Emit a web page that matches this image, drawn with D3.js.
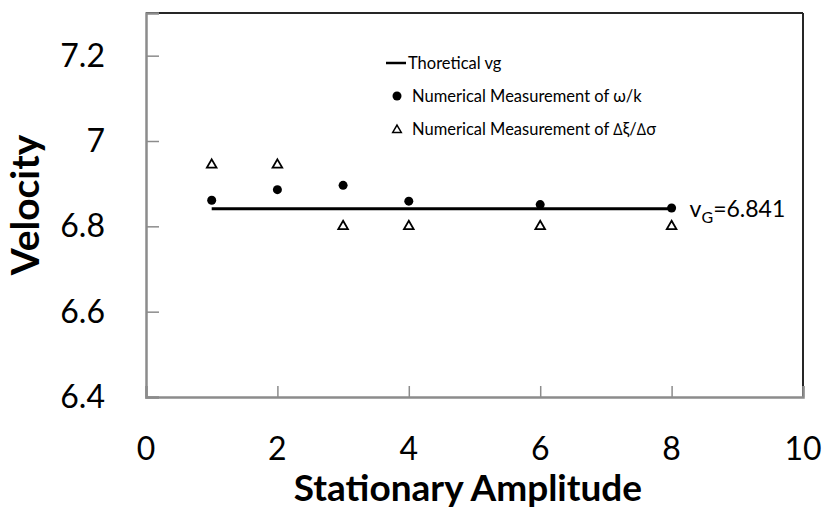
<!DOCTYPE html>
<html>
<head>
<meta charset="utf-8">
<script src="https://cdn.jsdelivr.net/npm/d3@7"></script>
<style>
  body { margin: 0; background: #fff; }
  text { font-family: Lato, "Open Sans", sans-serif; fill: #000; }
</style>
</head>
<body>
<div id="chart"></div>
<script>
// data
const amplitudes = [1, 2, 3, 4, 6, 8];
const phaseVelocity = [6.861, 6.886, 6.896, 6.859, 6.851, 6.843];   // omega/k
const groupVelocity = [6.944, 6.944, 6.8, 6.8, 6.8, 6.8];           // dxi/dsigma
const theoryX = [1, 8];
const theoryVg = 6.841;
const xTicks = [0, 2, 4, 6, 8, 10];
const yTicks = [6.4, 6.6, 6.8, 7, 7.2];

const width = 824, height = 512;
const margin = { top: 13, right: 21, bottom: 115, left: 146 };

const svg = d3.select("#chart").append("svg")
    .attr("width", width)
    .attr("height", height);

const x = d3.scaleLinear().domain([0, 10]).range([margin.left, width - margin.right]);
const y = d3.scaleLinear().domain([6.4, 7.3]).range([height - margin.bottom, margin.top]);

// frame: top/right dark, left/bottom gray
const grey = "#8c8c8c";
svg.append("line")
    .attr("x1", x(0)).attr("x2", x(10)).attr("y1", y(7.3)).attr("y2", y(7.3))
    .attr("stroke", "#262626").attr("stroke-width", 2);
svg.append("line")
    .attr("x1", x(10)).attr("x2", x(10)).attr("y1", y(7.3)).attr("y2", y(6.4))
    .attr("stroke", "#262626").attr("stroke-width", 2);

// axes with inward ticks
const yAxis = svg.append("g")
    .attr("transform", `translate(${x(0)},0)`)
    .call(d3.axisRight(y).tickValues(yTicks).tickSize(13).tickFormat(""));
const xAxis = svg.append("g")
    .attr("transform", `translate(0,${y(6.4)})`)
    .call(d3.axisTop(x).tickValues(xTicks).tickSize(11).tickFormat(""));
[yAxis, xAxis].forEach(g => {
    g.select(".domain").attr("stroke", grey).attr("stroke-width", 2.5);
    g.selectAll(".tick line").attr("stroke", grey).attr("stroke-width", 1.5);
});

// tick labels
svg.selectAll(".ylab").data(yTicks).enter().append("text")
    .attr("class", "ylab")
    .attr("x", x(0) - 41)
    .attr("y", d => y(d) + 11)
    .attr("text-anchor", "end")
    .style("font-size", "32px")
    .text(d => d3.format("")(d));
svg.selectAll(".xlab").data(xTicks).enter().append("text")
    .attr("class", "xlab")
    .attr("x", d => x(d))
    .attr("y", 460)
    .attr("text-anchor", "middle")
    .style("font-size", "32px")
    .text(d => d);

// axis titles
svg.append("text")
    .attr("transform", `translate(39,${(y(7.3) + y(6.4)) / 2}) rotate(-90)`)
    .attr("text-anchor", "middle")
    .style("font-size", "39px").style("font-weight", "bold")
    .text("Velocity");
svg.append("text")
    .attr("x", 468)
    .attr("y", 501)
    .attr("text-anchor", "middle")
    .style("font-size", "37px").style("font-weight", "bold")
    .text("Stationary Amplitude");

// theoretical line
svg.append("line")
    .attr("x1", x(theoryX[0])).attr("x2", x(theoryX[1]))
    .attr("y1", y(theoryVg)).attr("y2", y(theoryVg))
    .attr("stroke", "#000").attr("stroke-width", 3);

// omega/k points
svg.selectAll(".dot").data(amplitudes).enter().append("circle")
    .attr("class", "dot")
    .attr("cx", d => x(d))
    .attr("cy", (d, i) => y(phaseVelocity[i]))
    .attr("r", 4.5)
    .attr("fill", "#000");

// dxi/dsigma points
const tri = d3.symbol().type(d3.symbolTriangle).size(40);
svg.selectAll(".tri").data(amplitudes).enter().append("path")
    .attr("class", "tri")
    .attr("d", tri)
    .attr("transform", (d, i) => `translate(${x(d)},${y(groupVelocity[i])})`)
    .attr("fill", "#fff")
    .attr("stroke", "#000")
    .attr("stroke-width", 1.8);

// vG annotation
const ann = svg.append("text")
    .attr("x", x(8) + 18)
    .attr("y", y(theoryVg) + 8)
    .style("font-size", "23px");
ann.append("tspan").text("v");
ann.append("tspan").attr("dy", 6).style("font-size", "16px").text("G");
ann.append("tspan").attr("dy", -6).text("=6.841");

// legend
const legX = 397;
const legend = svg.append("g");
legend.append("line")
    .attr("x1", legX - 11).attr("x2", legX + 9)
    .attr("y1", 63).attr("y2", 63)
    .attr("stroke", "#000").attr("stroke-width", 2.5);
legend.append("circle")
    .attr("cx", legX).attr("cy", 96).attr("r", 4.5).attr("fill", "#000");
legend.append("path")
    .attr("d", d3.symbol().type(d3.symbolTriangle).size(32))
    .attr("transform", `translate(${legX},130)`)
    .attr("fill", "#fff").attr("stroke", "#000").attr("stroke-width", 1.5);
const legendLabels = ["Thoretical vg", "Numerical Measurement of \u03c9/k", "Numerical Measurement of \u2206\u03be/\u2206\u03c3"];
legend.selectAll("text").data(legendLabels).enter().append("text")
    .attr("x", (d, i) => i === 0 ? 408 : 412)
    .attr("y", (d, i) => 63 + i * 33 + 6)
    .style("font-size", "16.5px")
    .text(d => d);
</script>
</body>
</html>
